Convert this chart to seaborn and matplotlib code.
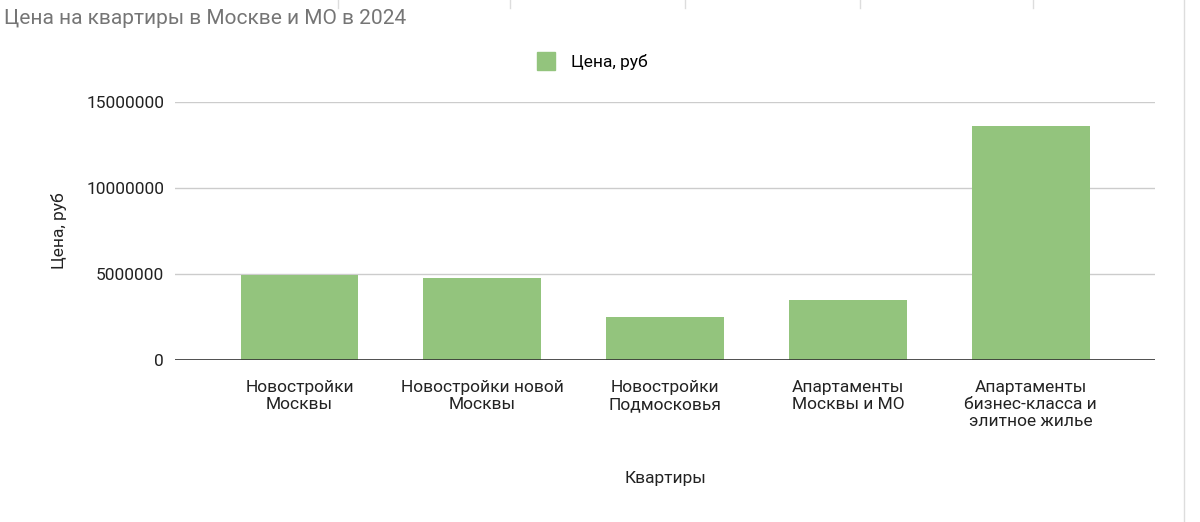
import matplotlib
matplotlib.use("Agg")
import matplotlib.pyplot as plt
import seaborn as sns
import pandas as pd
from matplotlib.lines import Line2D

categories = ["Новостройки\nМосквы", "Новостройки новой\nМосквы", "Новостройки\nПодмосковья",
              "Апартаменты\nМосквы и МО", "Апартаменты\nбизнес-класса и\nэлитное жилье"]
prices = [4950000, 4780000, 2480000, 3500000, 13600000]
yticks = [0, 5000000, 10000000, 15000000]

df = pd.DataFrame({"cat": categories, "price": prices})

plt.rcParams["font.family"] = "Roboto"
fig = plt.figure(figsize=(12, 5.22), dpi=100)
ax = fig.add_axes([0.146, 0.310, 0.8165, 0.4946])

sns.barplot(data=df, x="cat", y="price", color="#93c47d", saturation=1, width=0.645, ax=ax)

ax.set_ylim(0, 15000000)
ax.set_xlim(-0.68, 4.68)
ax.set_yticks(yticks)
ax.set_yticklabels([str(v) for v in yticks])
ax.grid(axis="y", color="#cccccc", linewidth=1)
ax.set_axisbelow(True)
ax.axhline(0, color="#333333", linewidth=1.2)
for s in ax.spines.values():
    s.set_visible(False)
ax.tick_params(length=0, labelsize=12.5, colors="#222222", pad=8)
ax.tick_params(axis="x", pad=14)
ax.set_xlabel("Квартиры", fontsize=12.5, color="#222222", labelpad=30)
ax.set_ylabel("Цена, руб", fontsize=12.5, color="#222222", labelpad=14)

fig.text(0.003, 0.965, "Цена на квартиры в Москве и МО в 2024", fontsize=15, color="#757575", va="center")
handle = Line2D([], [], marker="s", linestyle="none", markersize=13, color="#93c47d")
fig.legend([handle], ["Цена, руб"], loc="center", bbox_to_anchor=(0.49, 0.882), frameon=False,
           fontsize=12.5, handletextpad=0.4)

# spreadsheet grid behind the chart
for x in [338, 510, 685, 860, 1033]:
    fig.add_artist(Line2D([x / 1200, x / 1200], [0.985, 1.0], color="#dddddd", lw=1))
fig.add_artist(Line2D([1184 / 1200, 1184 / 1200], [0, 1], color="#dddddd", lw=1))

fig.savefig("out.png", dpi=100)
